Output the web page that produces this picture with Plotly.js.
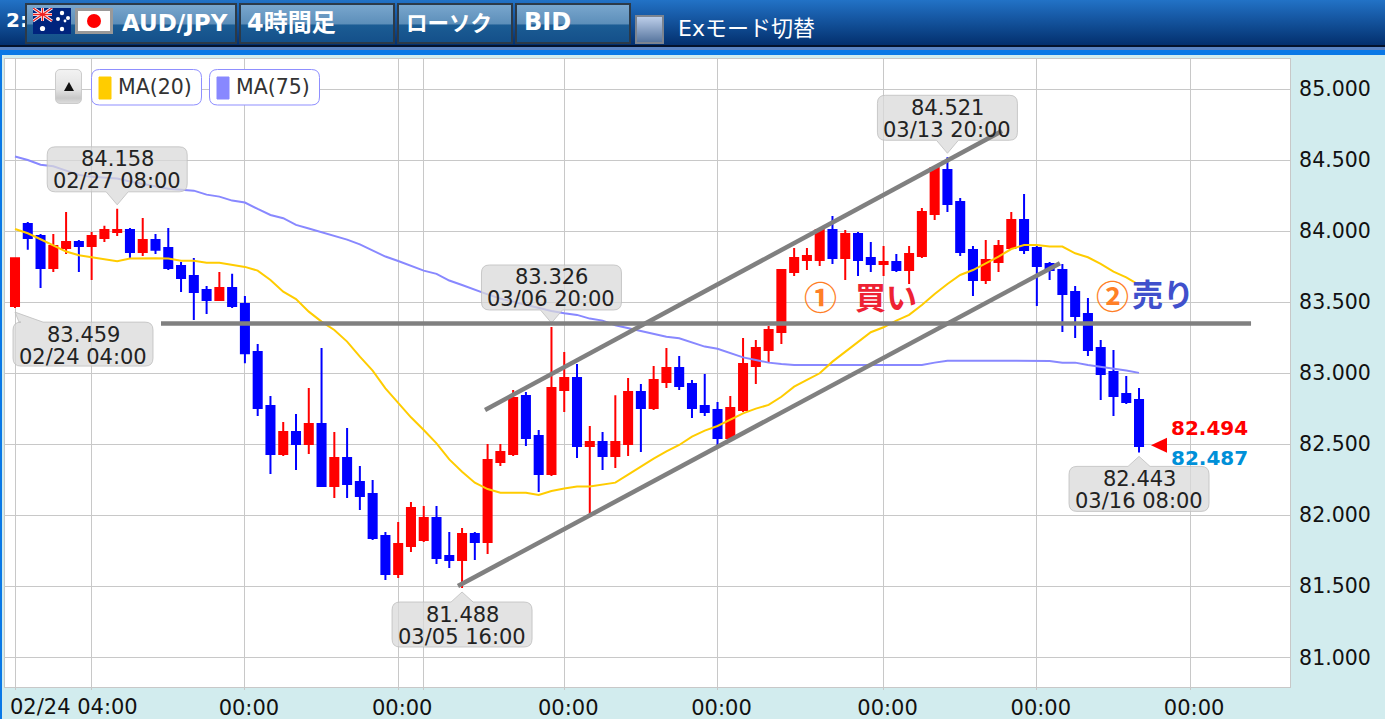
<!DOCTYPE html>
<html lang="ja">
<head>
<meta charset="utf-8">
<script src="https://cdn.plot.ly/plotly-3.0.1.min.js"></script>
<style>
html,body{margin:0;padding:0;width:1385px;height:719px;overflow:hidden;background:#d2ecee}
#chart{position:absolute;left:0;top:0;width:1385px;height:719px}
.abs{position:absolute;box-sizing:border-box}
#head{left:0;top:0;width:1385px;height:45px;background:linear-gradient(#2272c6,#03306e)}
.btn{top:3px;height:41px;border:2px solid #2c3a48;color:#fff;font:bold 23px "DejaVu Sans","Noto Sans CJK JP",sans-serif;
 background:linear-gradient(#79a6cd 0,#5d8fba 50%,#1b5c94 55%,#14508a 100%);line-height:37px;white-space:nowrap}
</style>
</head>
<body>
<div id="chart"></div>
<div class="abs" style="left:0;top:45px;width:1385px;height:2px;background:#03122c"></div>
<div class="abs" style="left:0;top:47px;width:1385px;height:3px;background:#5a84c4"></div>
<div class="abs" style="left:0;top:50px;width:1385px;height:5px;background:#0a78e6"></div>
<div class="abs" style="left:0;top:55px;width:2px;height:664px;background:#0a78e6"></div>
<div class="abs" id="head"></div>
<div class="abs" style="left:6px;top:8px;color:#fff;font:bold 20px 'DejaVu Sans'">2:</div>
<div class="abs btn" style="left:25px;width:212px;padding-left:95px">AUD/JPY</div>
<svg class="abs" style="left:33px;top:8px" width="38" height="26" viewBox="0 0 38 26">
 <rect width="38" height="26" fill="#00247d"/>
 <g stroke="#fff" stroke-width="3"><path d="M0 0L19 13M19 0L0 13"/><path d="M9.5 0V13M0 6.5H19"/></g>
 <g stroke="#e22" stroke-width="1.4"><path d="M0 0L19 13M19 0L0 13"/><path d="M9.5 0V13M0 6.5H19"/></g>
 <g fill="#fff"><circle cx="9.5" cy="20.5" r="2.6"/><circle cx="29" cy="21" r="2.2"/><circle cx="29" cy="5" r="2.2"/><circle cx="35" cy="10" r="2"/><circle cx="25" cy="11" r="2"/><circle cx="32" cy="13" r="1.4"/></g>
</svg>
<svg class="abs" style="left:75px;top:8px" width="38" height="26" viewBox="0 0 38 26">
 <rect x="1.5" y="1.5" width="35" height="23" fill="#fff" stroke="#999" stroke-width="3"/>
 <circle cx="19" cy="13" r="7" fill="#f00"/>
</svg>
<div class="abs btn" style="left:239px;width:156px;padding-left:6px;font-size:24px">4時間足</div>
<div class="abs btn" style="left:397px;width:116px;padding-left:7px;font-size:21.5px">ローソク</div>
<div class="abs btn" style="left:515px;width:116px;padding-left:7px;font-size:24px;line-height:35px">BID</div>
<div class="abs" style="left:635px;top:15px;width:29px;height:29px;border:2px solid #7c8490;background:linear-gradient(#bccee9,#58769f)"></div>
<div class="abs" style="left:678px;top:10px;color:#fff;font:22px 'DejaVu Sans','Noto Sans CJK JP',sans-serif;white-space:nowrap">Exモード切替</div>
<div class="abs" style="left:55px;top:69px;width:27px;height:35px;border-radius:5px;border:1px solid #ccc;background:linear-gradient(#f2f2f2,#e2e2e2 60%,#c8c8c8 85%,#dcdcdc)"></div>
<svg class="abs" style="left:63px;top:82px" width="12" height="10"><path d="M6 0L11 9H1Z" fill="#111"/></svg>
<script>
// Price chart values (AUD/JPY, 4-hour candles)
const opens = [83.474,84.052,83.967,83.742,83.883,83.925,83.897,83.953,83.995,84.009,83.854,83.939,83.883,83.756,83.685,83.587,83.516,83.601,83.488,83.150,82.770,82.432,82.587,82.502,82.643,82.206,82.404,82.235,82.150,81.854,81.587,81.784,81.826,81.981,81.713,81.685,81.868,81.812,82.375,82.432,82.840,82.558,82.291,82.882,82.967,82.488,82.516,82.418,82.502,82.868,82.756,82.939,83.037,82.925,82.770,82.742,82.544,82.742,83.051,83.164,83.291,83.713,83.798,83.798,84.009,83.812,83.981,83.812,83.770,83.784,83.727,83.826,84.122,84.432,84.206,83.868,83.657,83.784,83.882,84.080,83.882,83.770,83.727,83.573,83.418,83.178,83.009,82.854,82.812];
const highs = [83.810,84.066,83.981,83.981,84.136,83.939,83.995,84.038,84.158,84.023,84.094,83.981,84.023,83.784,83.812,83.615,83.714,83.700,83.545,83.206,82.840,82.657,82.713,82.896,83.178,82.587,82.615,82.347,82.249,81.883,81.953,82.094,82.066,82.066,81.883,81.911,81.883,82.502,82.502,82.882,82.868,82.601,83.326,83.150,83.065,82.629,82.587,82.845,82.967,82.925,83.051,83.178,83.122,82.953,82.995,82.798,82.840,83.249,83.235,83.333,83.727,83.882,83.882,84.023,84.108,84.009,83.995,83.925,83.896,83.840,83.896,84.164,84.460,84.521,84.235,83.896,83.939,83.939,84.136,84.263,83.896,83.784,83.770,83.615,83.530,83.235,83.164,82.981,82.896];
const lows = [83.459,83.869,83.601,83.714,83.840,83.714,83.657,83.925,83.967,83.812,83.826,83.840,83.728,83.573,83.376,83.418,83.516,83.460,83.070,82.699,82.291,82.418,82.319,82.432,82.206,82.122,82.122,82.037,81.826,81.544,81.559,81.742,81.812,81.657,81.629,81.488,81.685,81.728,82.347,82.418,82.488,82.164,82.277,82.728,82.404,82.000,82.319,82.333,82.418,82.446,82.742,82.896,82.882,82.685,82.699,82.488,82.530,82.728,82.925,83.080,83.206,83.685,83.727,83.756,83.770,83.657,83.685,83.713,83.685,83.713,83.629,83.812,84.080,84.136,83.826,83.544,83.629,83.713,83.882,83.840,83.474,83.657,83.291,83.249,83.122,82.812,82.699,82.784,82.443];
const closes = [83.810,83.953,83.742,83.897,83.925,83.897,83.967,84.009,84.009,83.854,83.939,83.869,83.742,83.671,83.573,83.516,83.601,83.474,83.141,82.756,82.432,82.587,82.502,82.643,82.206,82.404,82.220,82.136,81.840,81.587,81.798,82.051,81.981,81.699,81.685,81.868,81.812,82.389,82.446,82.826,82.544,82.291,82.896,82.967,82.488,82.516,82.418,82.516,82.868,82.756,82.953,83.037,82.911,82.756,82.728,82.544,82.756,83.065,83.178,83.305,83.727,83.812,83.826,84.009,83.812,83.981,83.798,83.770,83.784,83.727,83.840,84.136,84.446,84.192,83.854,83.657,83.798,83.896,84.080,83.868,83.756,83.727,83.558,83.404,83.164,82.995,82.840,82.798,82.488];
const ma20 = [84.016,83.986,83.944,83.899,83.857,83.831,83.817,83.803,83.789,83.808,83.810,83.810,83.808,83.793,83.793,83.779,83.779,83.765,83.749,83.723,83.657,83.575,83.523,83.434,83.364,83.305,83.223,83.117,83.019,82.894,82.788,82.690,82.601,82.507,82.394,82.307,82.230,82.185,82.159,82.159,82.159,82.143,82.171,82.188,82.202,82.202,82.216,82.230,82.286,82.343,82.399,82.450,82.495,82.554,82.596,82.629,82.671,82.718,82.751,82.777,82.835,82.906,82.953,83.000,83.082,83.152,83.223,83.289,83.324,83.371,83.411,83.481,83.558,83.629,83.692,83.727,83.774,83.821,83.875,83.903,83.903,83.892,83.892,83.845,83.817,83.770,83.716,83.676,83.622];
const ma75 = [84.526,84.502,84.469,84.458,84.427,84.397,84.383,84.378,84.371,84.350,84.333,84.315,84.300,84.293,84.286,84.258,84.244,84.216,84.202,84.157,84.115,84.092,84.045,84.019,83.993,83.967,83.941,83.908,83.864,83.822,83.791,83.756,83.723,83.700,83.653,83.622,83.587,83.556,83.526,83.504,83.483,83.457,83.439,83.422,83.411,83.385,83.371,83.338,83.319,83.298,83.281,83.258,83.246,83.218,83.188,83.173,83.141,83.112,83.094,83.075,83.065,83.059,83.059,83.059,83.059,83.059,83.059,83.059,83.059,83.059,83.059,83.059,83.075,83.089,83.089,83.089,83.089,83.089,83.089,83.089,83.089,83.087,83.075,83.075,83.059,83.047,83.030,83.019,83.003];
// Support / resistance lines drawn on the chart
const hLineX = [11.43,96.77], hLineY = [83.351,83.351];
const upperX = [36.8,77.27], upperY = [82.742,84.706];
const lowerX = [34.68,81.81], lowerY = [81.502,83.775];
// Axis ticks
const xTickVals = [0,6,18,30,32,43,55,68,80,92];
const xTickText = ['','','00:00','00:00','','00:00','00:00','00:00','00:00','00:00'];
const yTickVals = [81,81.5,82,82.5,83,83.5,84,84.5,85];
// Callouts: candle index, price, date text, placement
const calloutIdx = [0,8,35,42,73,88];
const calloutPrice = [83.459,84.158,81.488,83.326,84.521,82.443];
const calloutDate = ['02/24 04:00','02/27 08:00','03/05 16:00','03/06 20:00','03/13 20:00','03/16 08:00'];
const calloutSide = ['below-left','above','below','above','above','below'];
const askPrice = 82.494, bidPrice = 82.487;

const idx = opens.map((_, i) => i);
const W = 1385, H = 719, L = 5, R = 1290, T = 59, B = 687;
const px = x => (x - L) / (R - L);
const py = y => (B - y) / (B - T);

const GREY = '#808080', TXT = '#222';
const traces = [
 {type:'candlestick', x:idx, open:opens, high:highs, low:lows, close:closes, showlegend:false, hoverinfo:'skip',
  increasing:{line:{color:'#ff0000', width:2}, fillcolor:'#ff0000'},
  decreasing:{line:{color:'#0000ff', width:2}, fillcolor:'#0000ff'}, whiskerwidth:0},
 {type:'scatter', mode:'lines', x:idx, y:ma75, name:'MA(75)', showlegend:false, hoverinfo:'skip', line:{color:'#8888ff', width:2}},
 {type:'scatter', mode:'lines', x:idx, y:ma20, name:'MA(20)', showlegend:false, hoverinfo:'skip', line:{color:'#ffcc00', width:2}}
];

// Rounded box path with an optional pointer, in pixels around an anchor (screen y downwards).
function balloon(x0, x1, y0, y1, r, tip) {
  const f = (x, y) => x + ',' + (-y);
  const Q = (cx, cy, x, y) => 'Q' + f(cx, cy) + ' ' + f(x, y);
  let d = 'M' + f(x0 + r, y0);
  if (tip && tip.edge === 'top') d += 'L' + f(tip.b0, y0) + 'L' + f(tip.x, tip.y) + 'L' + f(tip.b1, y0);
  d += 'L' + f(x1 - r, y0) + Q(x1, y0, x1, y0 + r) + 'L' + f(x1, y1 - r) + Q(x1, y1, x1 - r, y1);
  if (tip && tip.edge === 'bottom') d += 'L' + f(tip.b1, y1) + 'L' + f(tip.x, tip.y) + 'L' + f(tip.b0, y1);
  d += 'L' + f(x0 + r, y1) + Q(x0, y1, x0, y1 - r) + 'L' + f(x0, y0 + r) + Q(x0, y0, x0 + r, y0) + 'Z';
  return d;
}

const shapes = [], annotations = [];
calloutIdx.forEach((ci, k) => {
  const side = calloutSide[k], v = calloutPrice[k];
  let box, tip;
  if (side === 'above') { box = [-70,70,-62,-17]; tip = {edge:'bottom', x:0, y:-4, b0:-11, b1:11}; }
  else if (side === 'below') { box = [-70,70,14,59]; tip = {edge:'top', x:0, y:4, b0:-11, b1:11}; }
  else { box = [-2,138,14,58]; tip = {edge:'top', x:0, y:4, b0:4, b1:28}; }
  shapes.push({type:'path', layer:'above', xref:'x', yref:'y', xsizemode:'pixel', ysizemode:'pixel', xanchor:ci, yanchor:v,
    path:balloon(box[0],box[1],box[2],box[3],8,tip), fillcolor:'rgba(218,218,218,0.75)', line:{color:'rgba(190,190,190,0.8)', width:1}});
  const cx = (box[0]+box[1])/2;
  [[v.toFixed(3), box[2]+12.5],[calloutDate[k], box[2]+34.5]].forEach(([t, off]) => {
    annotations.push({xref:'x', yref:'y', x:ci, y:v, xshift:cx, yshift:-off, text:t, showarrow:false, xanchor:'center', yanchor:'middle',
      font:{family:'DejaVu Sans', size:21, color:TXT}});
  });
});

// Grey hand-drawn lines sit over the callouts
[[hLineX,hLineY],[upperX,upperY],[lowerX,lowerY]].forEach(([xs,ys]) => {
  shapes.push({type:'line', layer:'above', xref:'x', yref:'y', x0:xs[0], x1:xs[1], y0:ys[0], y1:ys[1], line:{color:GREY, width:4.5}});
});

function pxRound(x0, x1, y0, y1, r, line, fill) {
  const ox = x => x - L, oy = y => B - y;
  const d = 'M' + ox(x0+r) + ',' + oy(y0) + 'L' + ox(x1-r) + ',' + oy(y0) + 'Q' + ox(x1) + ',' + oy(y0) + ' ' + ox(x1) + ',' + oy(y0+r) +
    'L' + ox(x1) + ',' + oy(y1-r) + 'Q' + ox(x1) + ',' + oy(y1) + ' ' + ox(x1-r) + ',' + oy(y1) +
    'L' + ox(x0+r) + ',' + oy(y1) + 'Q' + ox(x0) + ',' + oy(y1) + ' ' + ox(x0) + ',' + oy(y1-r) +
    'L' + ox(x0) + ',' + oy(y0+r) + 'Q' + ox(x0) + ',' + oy(y0) + ' ' + ox(x0+r) + ',' + oy(y0) + 'Z';
  return {type:'path', layer:'above', xref:'paper', yref:'paper', xsizemode:'pixel', ysizemode:'pixel', xanchor:0, yanchor:0, path:d,
    fillcolor:fill, line:{color:line, width:1}};
}
function pageText(x, y, text, size, color, opts) {
  annotations.push(Object.assign({xref:'paper', yref:'paper', x:px(x), y:py(y), text, showarrow:false, xanchor:'center', yanchor:'middle',
    font:{family:'DejaVu Sans', size, color}}, opts || {}));
}

// Legend chips
[['MA(20)','#ffcc00',91.5],['MA(75)','#8888ff',209.5]].forEach(([t, c, x]) => {
  shapes.push(pxRound(x, x+110, 69.5, 105, 8, '#8f8fff', '#ffffff'));
  shapes.push(pxRound(x+7.5, x+19.5, 77, 99, 0, c, c));
  pageText(x+63, 87, t, 20.5, '#333');
});

// Last price marker
shapes.push({type:'path', layer:'above', xref:'x', yref:'y', xsizemode:'pixel', ysizemode:'pixel', xanchor:88, yanchor:askPrice,
  path:'M12,0L28,7.5L28,-7.5Z', fillcolor:'#ff0000', line:{width:0}});
annotations.push({xref:'x', yref:'y', x:88, y:askPrice, xshift:70.5, yshift:17.5, text:askPrice.toFixed(3), showarrow:false,
  font:{family:'DejaVu Sans', size:20, color:'#ff0000', weight:'bold'}});
annotations.push({xref:'x', yref:'y', x:88, y:bidPrice, xshift:70.5, yshift:-11.5, text:bidPrice.toFixed(3), showarrow:false,
  font:{family:'DejaVu Sans', size:20, color:'#0090d8', weight:'bold'}});

// First axis label sits left of the gridlines, the rest are regular ticks
pageText(73.5, 707, '02/24 04:00', 21, '#111');

// Hand-written notes
const CJK = 'Noto Sans CJK JP';
pageText(820.5, 296, '①', 33, '#ff7f27', {font:{family:CJK, size:33, color:'#ff7f27', weight:'bold'}});
pageText(886, 295, '買い', 31, '#ee2233', {font:{family:CJK, size:31, color:'#ee2233', weight:'bold'}});
pageText(1112, 295, '②', 33, '#ff7f27', {font:{family:CJK, size:33, color:'#ff7f27', weight:'bold'}});
pageText(1163, 292, '売り', 31, '#4050cc', {font:{family:CJK, size:31, color:'#4050cc', weight:'bold'}});

const layout = {
  width:W, height:H, paper_bgcolor:'#d2ecee', plot_bgcolor:'#ffffff',
  margin:{l:L, r:W-R, t:T, b:H-B, pad:0}, dragmode:false, showlegend:false, boxgap:0.1,
  xaxis:{type:'linear', range:[-0.783,99.82], tickmode:'array', tickvals:xTickVals, ticktext:xTickText, ticklabelshift:4,
    showgrid:true, gridcolor:'#c8c8c8', gridwidth:1, zeroline:false, showline:true, linecolor:'#c8c8c8', mirror:true,
    ticks:'outside', ticklen:2, tickcolor:'#c8c8c8', tickfont:{family:'DejaVu Sans', size:21, color:'#111'},
    rangeslider:{visible:false}, fixedrange:true},
  yaxis:{type:'linear', range:[80.791,85.213], side:'right', tickmode:'array', tickvals:yTickVals, tickformat:'.3f',
    showgrid:true, gridcolor:'#c8c8c8', gridwidth:1, zeroline:false, showline:true, linecolor:'#c8c8c8', mirror:true,
    ticks:'', ticklabelstandoff:4, tickfont:{family:'DejaVu Sans', size:20.5, color:'#111'}, fixedrange:true},
  shapes, annotations
};
Plotly.newPlot('chart', traces, layout, {displayModeBar:false, staticPlot:true});
</script>
</body>
</html>
